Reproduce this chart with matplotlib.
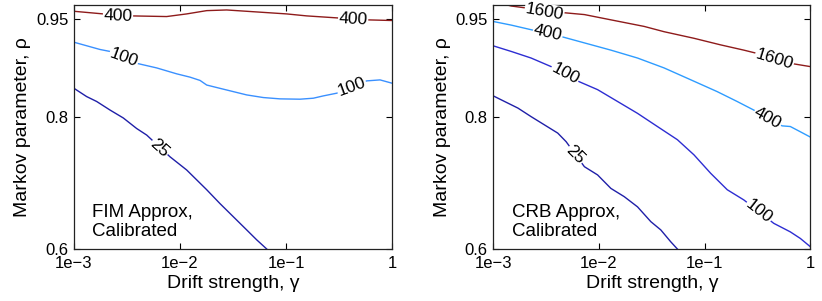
import matplotlib
matplotlib.use("Agg")
import matplotlib.pyplot as plt

plt.rcParams['font.family'] = ['Liberation Sans', 'DejaVu Sans']

# ---------------- data ----------------
x_ticks = [1e-3, 1e-2, 1e-1, 1.0]
x_ticklabels = ["1e\u22123", "1e\u22122", "1e\u22121", "1"]
y_ticks = [0.6, 0.8, 0.95]
y_ticklabels = ["0.6", "0.8", "0.95"]

# Left panel: FIM Approx, Calibrated
fim_400_g = [0.001, 0.00189, 0.0035, 0.00748, 0.01156, 0.01786, 0.02754, 0.04256, 0.06577, 0.1014, 0.1567, 0.3006, 0.5768, 1.0]
fim_400_r = [0.961, 0.957, 0.954, 0.953, 0.957, 0.962, 0.963, 0.961, 0.959, 0.957, 0.954, 0.951, 0.948, 0.947]
fim_100_g = [0.001, 0.001758, 0.002188, 0.003899, 0.006026, 0.009311, 0.01242, 0.01545, 0.01786, 0.02382, 0.03184,
             0.04256, 0.06109, 0.0877, 0.1355, 0.1811, 0.2249, 0.3006, 0.5768, 0.7709, 1.0]
fim_100_r = [0.914, 0.903, 0.900, 0.882, 0.875, 0.866, 0.861, 0.856, 0.849, 0.844, 0.839,
             0.834, 0.830, 0.828, 0.8275, 0.829, 0.8325, 0.8366, 0.8553, 0.8568, 0.8518]
fim_25_g = [0.001, 0.001315, 0.001637, 0.002188, 0.002917, 0.003899, 0.004853, 0.008054, 0.01156, 0.01786,
            0.02382, 0.03184, 0.04256, 0.05284, 0.06577]
fim_25_r = [0.844, 0.8315, 0.824, 0.811, 0.799, 0.783, 0.773, 0.740, 0.720, 0.690,
            0.669, 0.649, 0.629, 0.614, 0.600]

# Right panel: CRB Approx, Calibrated
crb_1600_g = [0.001, 0.001479, 0.002046, 0.004539, 0.007278, 0.01297, 0.02679, 0.0413, 0.07925, 0.1416, 0.235, 0.3141, 0.6471, 1.0]
crb_1600_r = [0.976, 0.969, 0.966, 0.959, 0.956, 0.948, 0.938, 0.930, 0.920, 0.910, 0.902, 0.897, 0.882, 0.877]
crb_400_g = [0.001, 0.001479, 0.00228, 0.004539, 0.007278, 0.01297, 0.02317, 0.0413, 0.07379, 0.1315, 0.2032,
             0.2917, 0.5408, 0.6471, 0.8054, 1.0]
crb_400_r = [0.9455, 0.940, 0.933, 0.922, 0.913, 0.902, 0.890, 0.875, 0.857, 0.839, 0.824,
             0.811, 0.787, 0.786, 0.778, 0.770]
crb_100_g = [0.001, 0.001479, 0.00228, 0.003524, 0.006516, 0.009705, 0.015, 0.02317, 0.03573, 0.05521, 0.07925,
             0.114, 0.1637, 0.235, 0.4508, 0.6471, 0.8054, 1.0]
crb_100_r = [0.9085, 0.900, 0.890, 0.877, 0.854, 0.842, 0.824, 0.806, 0.786, 0.766, 0.743,
             0.715, 0.690, 0.6745, 0.639, 0.626, 0.616, 0.6035]
crb_25_g = [0.001, 0.001279, 0.00171, 0.00228, 0.003048, 0.004074, 0.004887, 0.007278, 0.009705, 0.01297,
            0.01734, 0.02317, 0.03097, 0.03846, 0.04775, 0.05521]
crb_25_r = [0.8325, 0.824, 0.814, 0.801, 0.7885, 0.776, 0.763, 0.725, 0.7125, 0.692,
            0.6795, 0.664, 0.6415, 0.629, 0.611, 0.600]

# contour labels: (text, gamma, rho, rotation)
fim_labels = [("400", 0.0026, 0.954, -2), ("400", 0.43, 0.949, -3),
              ("100", 0.00296, 0.891, -20), ("100", 0.417, 0.8457, 20),
              ("25", 0.00638, 0.753, -42)]
crb_labels = [("1600", 0.00305, 0.9607, -10), ("1600", 0.457, 0.888, -17),
              ("400", 0.00328, 0.928, -13), ("400", 0.395, 0.7986, -29),
              ("100", 0.00478, 0.866, -28), ("100", 0.326, 0.657, -38),
              ("25", 0.00598, 0.743, -45)]

C_DARKRED = '#8e1b1b'
C_LIGHTBLUE = '#3a90ff'
C_SKYBLUE = '#2e9cff'
C_BLUE = '#2d2dd2'
C_NAVY = '#1f1fa8'

fim_lines = [(fim_400_g, fim_400_r, C_DARKRED), (fim_100_g, fim_100_r, C_LIGHTBLUE), (fim_25_g, fim_25_r, C_NAVY)]
crb_lines = [(crb_1600_g, crb_1600_r, C_DARKRED), (crb_400_g, crb_400_r, C_SKYBLUE),
             (crb_100_g, crb_100_r, C_BLUE), (crb_25_g, crb_25_r, C_NAVY)]

# ---------------- figure ----------------
fig = plt.figure(figsize=(8.22, 3.01), dpi=100)
ax1 = fig.add_axes([74 / 822, 52 / 301, 318 / 822, 244.3 / 301])
ax2 = fig.add_axes([493.3 / 822, 52 / 301, 317 / 822, 244.3 / 301])


def style(ax, lines, labels, note):
    for g, r, c in lines:
        ax.plot(g, r, color=c, lw=1.0, zorder=2)
    for t, g, r, rot in labels:
        ax.text(g, r, t, fontsize=12.5, ha='center', va='center', rotation=rot,
                rotation_mode='anchor', zorder=4, clip_on=False,
                bbox=dict(facecolor='white', edgecolor='none', pad=0.5))
    ax.set_xscale('log')
    ax.set_xlim(1e-3, 1)
    ax.set_ylim(0.6, 0.971)
    ax.set_xticks(x_ticks)
    ax.set_xticklabels(x_ticklabels)
    ax.xaxis.set_minor_locator(matplotlib.ticker.NullLocator())
    ax.set_yticks(y_ticks)
    ax.set_yticklabels(y_ticklabels)
    ax.tick_params(direction='in', length=4, width=0.8, top=True, right=True,
                   labelsize=12, colors='black')
    ax.tick_params(axis='x', pad=5)
    ax.tick_params(axis='y', pad=4)
    for s in ax.spines.values():
        s.set_linewidth(0.9)
        s.set_color('#222222')
    ax.set_xlabel("Drift strength, \u03b3", fontsize=14)
    ax.set_ylabel("Markov parameter, \u03c1", fontsize=14)
    ax.xaxis.set_label_coords(0.5, -0.108)
    ax.yaxis.set_label_coords(-0.135, 0.5)
    ax.text(0.058, 0.132, note[0], transform=ax.transAxes, fontsize=13.5, ha='left', va='baseline')
    ax.text(0.058, 0.054, note[1], transform=ax.transAxes, fontsize=13.5, ha='left', va='baseline')


style(ax1, fim_lines, fim_labels, ("FIM Approx,", "Calibrated"))
style(ax2, crb_lines, crb_labels, ("CRB Approx,", "Calibrated"))

fig.savefig("out.png", dpi=100)
